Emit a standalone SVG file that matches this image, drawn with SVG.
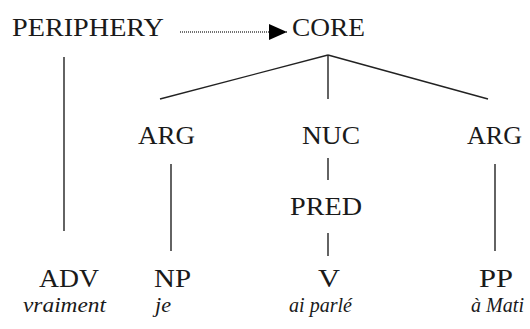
<svg xmlns="http://www.w3.org/2000/svg" width="530" height="329" viewBox="0 0 530 329">
<defs>
<style>
.lbl{font-size:26px;fill:#1a1a1a}
.it{font-size:22px;font-style:italic;fill:#1a1a1a}
.ln{stroke:#222;stroke-width:1.4;fill:none}
.dot{stroke:#444;stroke-width:1.6;stroke-dasharray:1 1;fill:none}
</style>
<marker id="ah" markerWidth="18" markerHeight="16" refX="18" refY="8" orient="auto" markerUnits="userSpaceOnUse">
<path d="M0,0 L18,8 L0,16 Z" fill="#000"/>
</marker>
</defs>
<rect width="530" height="329" fill="#fff"/>
<g id="connectors">
<line class="dot" x1="180" y1="32" x2="287" y2="32" marker-end="url(#ah)"/>
<line class="ln" x1="328" y1="55" x2="160" y2="99"/>
<line class="ln" x1="328" y1="55" x2="328" y2="99"/>
<line class="ln" x1="328" y1="55" x2="488" y2="99"/>
<line class="ln" x1="64" y1="57" x2="64" y2="231"/>
<line class="ln" x1="171" y1="164" x2="171" y2="251"/>
<line class="ln" x1="328" y1="158" x2="328" y2="180"/>
<line class="ln" x1="328" y1="233" x2="328" y2="256"/>
<line class="ln" x1="495" y1="164" x2="495" y2="251"/>
</g>
<g font-family="Liberation Serif, Times New Roman, serif">
<g id="periphery"><text class="lbl" x="12" y="36" textLength="152" lengthAdjust="spacingAndGlyphs">PERIPHERY</text></g>
<g id="core"><text class="lbl" x="292" y="36" textLength="73" lengthAdjust="spacingAndGlyphs">CORE</text></g>
<g id="arg1"><text class="lbl" x="138" y="144" textLength="57" lengthAdjust="spacingAndGlyphs">ARG</text></g>
<g id="nuc"><text class="lbl" x="302" y="144" textLength="58" lengthAdjust="spacingAndGlyphs">NUC</text></g>
<g id="arg2"><text class="lbl" x="467" y="144" textLength="55" lengthAdjust="spacingAndGlyphs">ARG</text></g>
<g id="pred"><text class="lbl" x="290" y="215" textLength="72" lengthAdjust="spacingAndGlyphs">PRED</text></g>
<g id="adv"><text class="lbl" x="39" y="287" textLength="60" lengthAdjust="spacingAndGlyphs">ADV</text>
<text class="it" x="23" y="312" textLength="83" lengthAdjust="spacingAndGlyphs">vraiment</text></g>
<g id="np"><text class="lbl" x="154" y="287" textLength="37" lengthAdjust="spacingAndGlyphs">NP</text>
<text class="it" x="155" y="312" textLength="16" lengthAdjust="spacingAndGlyphs">je</text></g>
<g id="v"><text class="lbl" x="318" y="287" textLength="22" lengthAdjust="spacingAndGlyphs">V</text>
<text class="it" x="289" y="312" textLength="63" lengthAdjust="spacingAndGlyphs">ai parlé</text></g>
<g id="pp"><text class="lbl" x="479" y="287" textLength="34" lengthAdjust="spacingAndGlyphs">PP</text>
<text class="it" x="471" y="312" textLength="53" lengthAdjust="spacingAndGlyphs">à Mati</text></g>
</g>
</svg>
